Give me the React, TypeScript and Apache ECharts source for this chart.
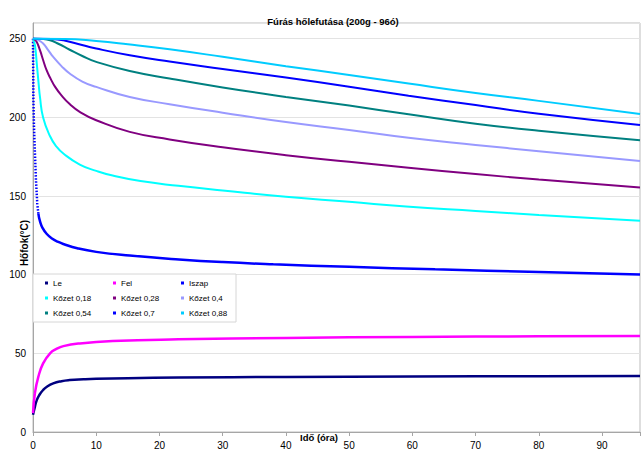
import React, { useEffect, useRef } from "react";
import * as echarts from "echarts";

const titleText = "Fúrás hőlefutása (200g - 96ó)";
const xTitle = "Idő (óra)";
const yTitle = "Hőfok(°C)";

const seriesNames = [
  "Le", "Fel", "Iszap",
  "Kőzet 0,18", "Kőzet 0,28", "Kőzet 0,4",
  "Kőzet 0,54", "Kőzet 0,7", "Kőzet 0,88",
];
const seriesColors = [
  "#000080", "#FF00FF", "#0000FF",
  "#00FFFF", "#800080", "#9999FF",
  "#008080", "#0000FF", "#00CCFF",
];

const le = [[0,11],[0.3,16],[0.6,20.3],[1,23.5],[1.6,26.7],[2.2,28.8],[3.2,30.9],[4.5,32.3],[5.8,33],[8,33.5],[10,33.8],[15,34.2],[23,34.6],[40,35],[60,35.3],[80,35.5],[96,35.6]];
const fel = [[0,12],[0.3,24.6],[0.84,35],[1.6,43.6],[2.7,50],[3.7,52.8],[4.8,54.6],[7.4,56.3],[12.6,57.8],[23,58.9],[40,59.8],[60,60.4],[80,60.8],[96,61]];
const iszapSteep = [[0,250],[0.03,230],[0.06,212],[0.15,195],[0.27,181],[0.47,160],[0.68,145],[0.84,139]];
const iszap = [[0.84,139],[1.1,134],[1.5,129.8],[2.15,126],[3,123],[4,120.8],[4.8,119.5],[7,116.8],[10,114.5],[15.3,112.2],[23.1,109.7],[30,108],[38,106.6],[50,105],[63.6,103.4],[80,101.7],[96,100.2]];
const k018 = [[0,250],[0.3,246],[0.6,234],[0.9,221],[1.1,213],[1.6,200],[2.7,188],[3.7,181.5],[4.8,177],[7.4,170],[10,166],[12.6,163],[17,159.5],[23,156.5],[30,153.5],[40,149.5],[50,146.3],[59,143.3],[70,140.5],[80,138],[96,134.3]];
const k028 = [[0,250],[0.5,248.5],[1.1,242.7],[1.6,236.5],[2.15,230],[2.8,224.5],[3.5,219.4],[4.5,214],[5.8,208.5],[7.5,203.2],[10,198.2],[15.3,190.8],[21.6,186],[30,181],[40,176],[50,171.8],[59.4,168],[70,164],[80,160.5],[96,155.5]];
const k04 = [[0,250],[0.8,249.3],[1.6,247],[2.4,242.8],[3.2,238.4],[4.5,232.6],[5.8,227.9],[7.8,222.8],[10,219.4],[15.3,213],[21.6,208.4],[30,203],[40,197],[50,192],[59.4,187],[70,182.5],[80,178.5],[96,172.2]];
const k054 = [[0,250],[1.5,249.8],[2.7,249],[4,246.8],[5.8,243],[7.8,239],[10,235.3],[15.3,229.5],[21.6,224.7],[30,219],[40,213],[50,207.5],[59.4,202],[70,196],[80,191.5],[96,185.5]];
const k07 = [[0,250],[3,249.8],[4.8,249],[7,246.8],[10,243.8],[15.3,239.5],[21.6,235.5],[30,230.8],[40,225.3],[50,219.5],[59.4,213.8],[70,207.8],[80,202.3],[96,195.2]];
const k088 = [[0,250],[5,249.9],[10,248.6],[15,246.5],[21.6,243.3],[30,238.5],[40,232.5],[50,227],[59.4,221.5],[70,215.5],[80,210.5],[96,202.2]];

const xMin = 0, xMax = 96, xInterval = 10;
const yMin = 0, yMax = 260, yInterval = 50;

const FONT = "Liberation Sans, Arial, sans-serif";

export default function App() {
  const ref = useRef<HTMLDivElement>(null);
  useEffect(() => {
    if (!ref.current) return;
    const chart = echarts.init(ref.current, null, { renderer: "svg" });
    const lineSeries = (name: string, data: number[][], color: string, width: number, extra: any = {}) => ({
      type: "line",
      name,
      data,
      showSymbol: false,
      symbol: "rect",
      smooth: 0.5,
      color,
      lineStyle: { color, width },
      emphasis: { disabled: true },
      z: 2,
      ...extra,
    });
    const datas = [le, fel, iszap, k018, k028, k04, k054, k07, k088];
    const widths = [2.5, 2.5, 2.5, 2, 2, 2, 2, 2, 2];
    const series: any[] = datas.map((d, i) => lineSeries(seriesNames[i], d, seriesColors[i], widths[i]));
    series.splice(2, 0, lineSeries("Iszap", iszapSteep, seriesColors[2], 2.5, {
      smooth: false,
      lineStyle: { color: seriesColors[2], width: 2.5, type: [1.5, 1.6] },
    }));
    const legendCol = (names: string[], left: number) => ({
      orient: "vertical",
      left,
      top: 278,
      padding: 0,
      itemGap: 5,
      itemWidth: 3,
      itemHeight: 3,
      icon: "rect",
      selectedMode: false,
      z: 20,
      data: names.map((n) => ({ name: n, icon: "rect" })),
      textStyle: { fontSize: 8, lineHeight: 10, color: "#000", fontFamily: FONT },
    });
    chart.setOption({
      animation: false,
      textStyle: { fontFamily: FONT },
      title: {
        text: titleText,
        left: 328,
        textAlign: "center",
        top: 11,
        textStyle: { fontSize: 9.5, fontWeight: "bold", color: "#000", fontFamily: FONT },
      },
      grid: {
        left: 33, right: 1, top: 23, bottom: 18,
        show: true, borderColor: "#bdbdbd", borderWidth: 1, backgroundColor: "#fff",
      },
      legend: [
        legendCol([seriesNames[0], seriesNames[3], seriesNames[6]], 45),
        legendCol([seriesNames[1], seriesNames[4], seriesNames[7]], 113),
        legendCol([seriesNames[2], seriesNames[5], seriesNames[8]], 181),
      ],
      xAxis: {
        type: "value",
        min: xMin, max: xMax, interval: xInterval,
        axisLine: { show: true, lineStyle: { color: "#a6a6a6", width: 1 } },
        axisTick: { show: true, length: 4, lineStyle: { color: "#a6a6a6" } },
        splitLine: { show: false },
        axisLabel: {
          fontSize: 10, color: "#000", margin: 8, fontFamily: FONT,
          formatter: (v: number) => (v % xInterval === 0 ? String(v) : ""),
        },
      },
      yAxis: {
        type: "value",
        min: yMin, max: yMax, interval: yInterval,
        axisLine: { show: true, lineStyle: { color: "#a6a6a6", width: 1 } },
        axisTick: { show: false },
        splitLine: { show: true, lineStyle: { color: "#e3e3e3", width: 1 } },
        axisLabel: {
          fontSize: 10, color: "#000", margin: 7, fontFamily: FONT,
          formatter: (v: number) => (v % yInterval === 0 ? String(v) : ""),
        },
      },
      graphic: [
        {
          type: "rect",
          shape: { x: 33, y: 274, width: 203, height: 48 },
          style: { fill: "#fff", stroke: "#d6d6d6", lineWidth: 1 },
          z: 10,
          silent: true,
        },
        {
          type: "text",
          x: 319, y: 437,
          style: { text: xTitle, fontSize: 9.5, fontWeight: "bold", fill: "#000", align: "center", verticalAlign: "middle", fontFamily: FONT },
          z: 10,
        },
        {
          type: "text",
          x: 24, y: 243,
          rotation: Math.PI / 2,
          style: { text: yTitle, fontSize: 10, fontWeight: "bold", fill: "#000", align: "center", verticalAlign: "middle", fontFamily: FONT },
          z: 10,
        },
      ],
      series,
    });
    return () => chart.dispose();
  }, []);
  return <div ref={ref} style={{ position: "fixed", left: 0, top: 0, width: 643, height: 450, background: "#fff" }} />;
}
